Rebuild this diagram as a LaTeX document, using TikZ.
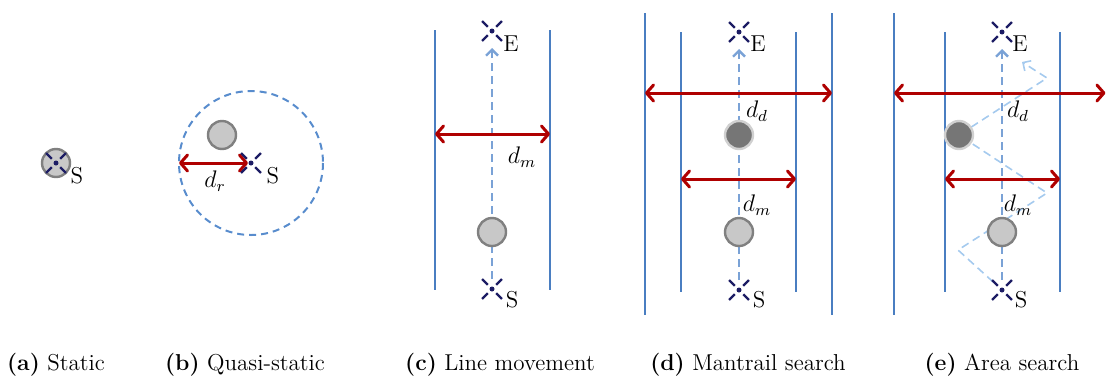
\documentclass[tikz,border=0pt]{standalone}
\usetikzlibrary{arrows.meta}
\definecolor{trackblue}{RGB}{74,126,193}
\definecolor{circblue}{RGB}{88,140,205}
\definecolor{routeblue}{RGB}{122,162,214}
\definecolor{zigblue}{RGB}{165,202,238}
\definecolor{distred}{RGB}{175,0,0}
\definecolor{marknavy}{RGB}{28,28,100}
\definecolor{persongray}{RGB}{200,200,200}
\definecolor{personedge}{RGB}{128,128,128}
\definecolor{dogfill}{RGB}{118,118,118}
\definecolor{dogedge}{RGB}{208,208,208}

\tikzset{
  track/.style={trackblue, line width=1pt},
  dist/.style={distred, line width=1.5pt,
    {Straight Barb[length=3.5pt,width=8pt,line cap=round,line join=round]}-{Straight Barb[length=3.5pt,width=8pt,line cap=round,line join=round]}},
  route/.style={routeblue, line width=1.2pt, dash pattern=on 4pt off 2.5pt,
    -{Straight Barb[length=3pt,width=6pt]}},
  zigzag/.style={zigblue, line width=0.8pt, dash pattern=on 4pt off 2.5pt},
  person/.style={circle, fill=persongray, draw=personedge, line width=1.2pt, minimum size=14pt, inner sep=0pt},
  dog/.style={circle, fill=dogfill, draw=dogedge, line width=1.2pt, minimum size=14pt, inner sep=0pt},
  lbl/.style={font=\fontsize{11.5}{13}\selectfont, inner sep=0pt},
  caption/.style={font=\fontsize{11.5}{13}\selectfont, inner sep=0pt},
  xmark/.pic={
    \fill[marknavy] (0,0) circle (2.5);
    \foreach \a in {45,135,225,315}
      \draw[marknavy, line width=1.2pt] (\a:6) -- (\a:14);
  }
}

\begin{document}
\begin{tikzpicture}[x=0.5pt, y=-0.5pt]
  \useasboundingbox (0,0) rectangle (1108,376);

  % (a) static
  \coordinate (aS) at (56,163);
  \node[person] (aP) at (aS) {};
  \pic at (aS) {xmark};
  \node[lbl] (aSl) at (77,176) {S};
  \node[caption] (capA) at (56,365) {\textbf{(a)} Static};

  % (b) quasi-static
  \coordinate (bS) at (251,163);
  \coordinate (bL) at (179,163);
  \draw[circblue, line width=1pt, dash pattern=on 3.5pt off 2.5pt] (bS) circle (72);
  \node[person] (bP) at (222,135) {};
  \draw[dist, shorten >=1.5pt] (bL) -- (bS);
  \pic at (bS) {xmark};
  \node[lbl] (bSl) at (273,176) {S};
  \node[lbl] (bdr) at (215,181) {$d_r$};
  \node[caption] (capB) at (245,365) {\textbf{(b)} Quasi-static};

  % (c) line movement
  \coordinate (cS) at (492,289);
  \coordinate (cE) at (492,31);
  \coordinate (cL) at (435,134);
  \coordinate (cR) at (550,134);
  \draw[track] (435,30) -- (435,290);
  \draw[track] (550,30) -- (550,290);
  \draw[route, shorten <=5pt, shorten >=8.5pt] (cS) -- (cE);
  \node[person] (cP) at (492,232) {};
  \draw[dist] (cL) -- (cR);
  \pic at (cS) {xmark};
  \pic at (cE) {xmark};
  \node[lbl] (cSl) at (512,300) {S};
  \node[lbl] (cEl) at (511,44) {E};
  \node[lbl] (cdm) at (522,157) {$d_m$};
  \node[caption] (capC) at (500,365) {\textbf{(c)} Line movement};

  % (d) mantrail search
  \coordinate (dS) at (739,290);
  \coordinate (dE) at (739,32);
  \coordinate (dOL) at (645,93);
  \coordinate (dOR) at (832,93);
  \coordinate (dIL) at (681,179);
  \coordinate (dIR) at (796,179);
  \draw[track] (645,13) -- (645,315);
  \draw[track] (832,13) -- (832,315);
  \draw[track] (681,32) -- (681,292);
  \draw[track] (796,32) -- (796,292);
  \draw[route, shorten <=5pt, shorten >=8.5pt] (dS) -- (dE);
  \node[dog] (dD) at (739,135) {};
  \node[person] (dP) at (739,232) {};
  \draw[dist] (dOL) -- (dOR);
  \draw[dist] (dIL) -- (dIR);
  \pic at (dS) {xmark};
  \pic at (dE) {xmark};
  \node[lbl] (dSl) at (759,300) {S};
  \node[lbl] (dEl) at (758,44) {E};
  \node[lbl] (ddd) at (757,111) {$d_d$};
  \node[lbl] (ddm) at (757,205) {$d_m$};
  \node[caption] (capD) at (748,365) {\textbf{(d)} Mantrail search};

  % (e) area search
  \coordinate (eS) at (1002,290);
  \coordinate (eE) at (1002,32);
  \coordinate (eOL) at (894,93);
  \coordinate (eOR) at (1107,93);
  \coordinate (eIL) at (945,179);
  \coordinate (eIR) at (1060,179);
  \coordinate (eDc) at (959,135);
  \coordinate (z1) at (958,250);
  \coordinate (z2) at (1047,193);
  \coordinate (z3) at (1047,78);
  \coordinate (z4) at (1022,62);
  \draw[track] (894,13) -- (894,315);
  \draw[track] (945,32) -- (945,292);
  \draw[track] (1060,32) -- (1060,292);
  \draw[zigzag, shorten <=6pt, -{Straight Barb[length=3pt,width=6pt]}]
    (eS) -- (z1) -- (z2) -- (eDc) -- (z3) -- (z4);
  \draw[route, shorten <=5pt, shorten >=8.5pt] (eS) -- (eE);
  \node[dog] (eD) at (eDc) {};
  \node[person] (eP) at (1002,232) {};
  \draw[dist, shorten >=0.8pt] (eOL) -- (eOR);
  \draw[dist] (eIL) -- (eIR);
  \pic at (eS) {xmark};
  \pic at (eE) {xmark};
  \node[lbl] (eSl) at (1021,300) {S};
  \node[lbl] (eEl) at (1020,44) {E};
  \node[lbl] (edd) at (1018,111) {$d_d$};
  \node[lbl] (edm) at (1018,205) {$d_m$};
  \node[caption] (capE) at (1002,365) {\textbf{(e)} Area search};
\end{tikzpicture}
\end{document}
